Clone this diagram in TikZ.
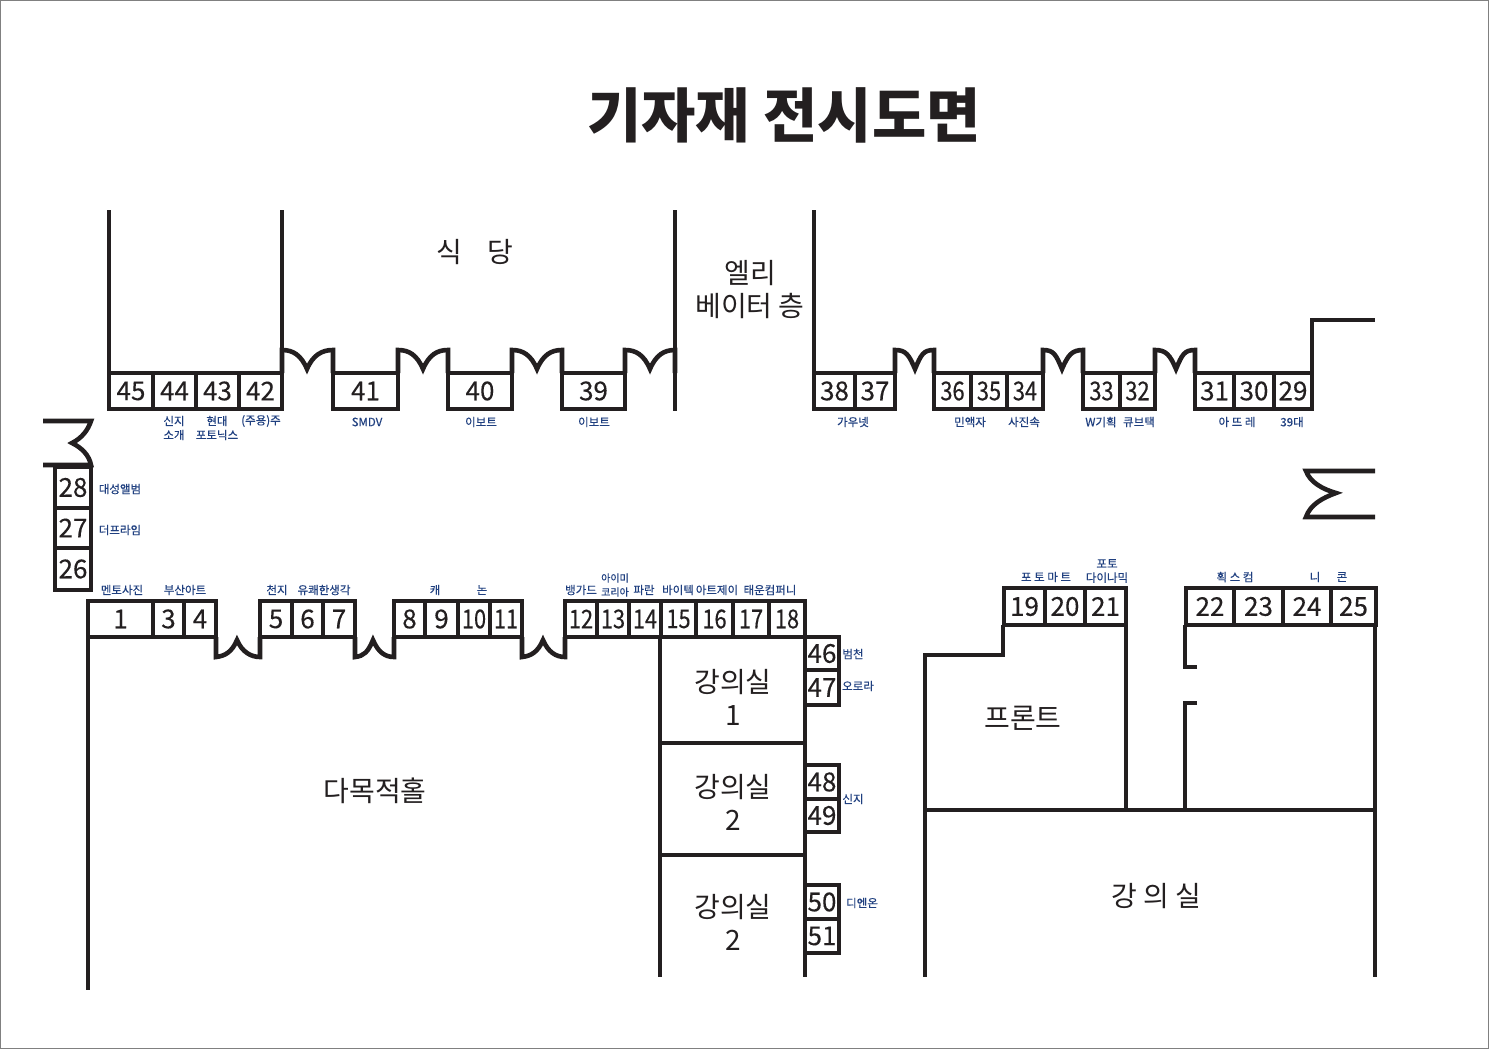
\documentclass[tikz,border=0pt]{standalone}
\usepackage{fontspec}
\setmainfont{Noto Sans CJK KR}
\newfontfamily\tagfont[RawFeature={embolden=0.35}]{Noto Sans CJK KR}
\newfontfamily\numfont[RawFeature={embolden=0.25}]{Noto Sans CJK KR}
\newfontfamily\narrowfont[FakeStretch=0.84,RawFeature={embolden=0.25}]{Noto Sans CJK KR}
\usepackage{tikz}
\usetikzlibrary{positioning}
\definecolor{labelblue}{HTML}{1F3F7F}
\definecolor{wallblack}{HTML}{231F20}
\tikzset{
  wall/.style={draw=wallblack,line width=3.3pt,line cap=butt,line join=miter},
  doorline/.style={draw=wallblack,line width=4.6pt,line join=miter},
  booth/.style={draw=wallblack,line width=3.4pt,fill=white,inner sep=0pt,outer sep=0pt,font=\numfont\fontsize{26}{26}\selectfont,text=wallblack},
  tag/.style={text=labelblue,inner sep=0pt,align=center,font=\tagfont\fontsize{11.5}{14}\selectfont},
  room/.style={text=wallblack,inner sep=0pt,align=center,font=\fontsize{28}{33}\selectfont}
}
\begin{document}
\begin{tikzpicture}[x=1pt,y=-1pt]
\useasboundingbox (0,0) rectangle (1489,1049);
\draw[gray,line width=1.5pt] (0.7,0.7) rectangle (1488.3,1048.3);
\node[text=wallblack,inner sep=0pt,font=\fontsize{59}{59}\selectfont\bfseries] (title) at (784,115) {기자재 전시도면};
% walls
\draw[wall] (109,210) -- (109,373);
\draw[wall] (282,210) -- (282,409);
\draw[wall] (675,210) -- (675,411);
\draw[wall] (814,210) -- (814,373);
\draw[wall] (1312,373) -- (1312,320) -- (1375,320);
\draw[wall] (88,637) -- (88,990);
\draw[wall] (660,637) -- (660,977);
\draw[wall] (805,637) -- (805,977);
\draw[wall] (660,743) -- (805,743);
\draw[wall] (660,855) -- (805,855);
\draw[wall] (1003,625) -- (1003,655) -- (925,655) -- (925,977);
\draw[wall] (925,810) -- (1375,810);
\draw[wall] (1126,625) -- (1126,810);
\draw[wall] (1375,625) -- (1375,977);
\draw[wall] (1197,667) -- (1185,667) -- (1185,625);
\draw[wall] (1197,703) -- (1185,703) -- (1185,810);
% doors top row
\foreach \xa/\xm/\xb in {282/307/333,398/423/448,512/537/562,625/650/675,895/915/934,1043/1062/1083,1155/1176/1195}{
  \draw[doorline] (\xa,373) -- (\xa,350) .. controls (\xa+11,350) and (\xm-6,355) .. (\xm,369)
    .. controls (\xm+6,355) and (\xb-11,350) .. (\xb,350) -- (\xb,373);
}
% doors lower row
\foreach \xa/\xm/\xb in {216/237/260,355/373/394,522/543/565}{
  \draw[doorline] (\xa,637) -- (\xa,657) .. controls (\xa+9,656) and (\xm-5,652) .. (\xm,640)
    .. controls (\xm+5,652) and (\xb-9,657) .. (\xb,657) -- (\xb,637);
}
% side doors
\draw[doorline] (43,421) -- (91,421) .. controls (88,430) and (82,438) .. (72,443) .. controls (82,448) and (89,455) .. (91,465) -- (43,465);
\draw[doorline] (1375,471) -- (1306,471) .. controls (1310,482) and (1322,489) .. (1336,493) .. controls (1322,498) and (1310,505) .. (1306,517) -- (1375,517);
% booths
\foreach \xa/\xb/\ya/\yb/\num in {
  109/153/373/409/45,153/196/373/409/44,196/239/373/409/43,239/282/373/409/42,
  333/398/373/409/41,448/512/373/409/40,562/625/373/409/39,
  814/855/373/409/38,855/895/373/409/37,1195/1234/373/409/31,1234/1274/373/409/30,1274/1312/373/409/29,
  88/153/601/637/1,153/184/601/637/3,184/216/601/637/4,260/292/601/637/5,292/323/601/637/6,323/355/601/637/7,
  394/425/601/637/8,425/458/601/637/9,
  805/839/765/799/48,805/839/799/832/49,805/839/885/919/50,805/839/919/953/51,
  1004/1045/588/625/19,1045/1085/588/625/20,1085/1126/588/625/21,
  1186/1234/588/625/22,1234/1283/588/625/23,1283/1331/588/625/24,1331/1376/588/625/25}{
  \node[booth,minimum width={(\xb-\xa)*1pt},minimum height={(\yb-\ya)*1pt}] (b\num) at ({(\xa+\xb)/2},{(\ya+\yb)/2}) {\num};
}
% tight booths
\foreach \xa/\xb/\ya/\yb/\num in {
  934/971/373/409/36,971/1007/373/409/35,1007/1043/373/409/34,1083/1120/373/409/33,1120/1155/373/409/32,
  458/490/601/637/10,490/522/601/637/11,
  565/597/601/637/12,597/629/601/637/13,629/661/601/637/14,661/696/601/637/15,696/733/601/637/16,733/769/601/637/17,769/805/601/637/18}{
  \node[booth,minimum width={(\xb-\xa)*1pt},minimum height={(\yb-\ya)*1pt},font=\narrowfont\fontsize{26}{26}\selectfont] (b\num) at ({(\xa+\xb)/2},{(\ya+\yb)/2}) {\num};
}
% side booths
\foreach \xa/\xb/\ya/\yb/\num in {
  55/91/467/508/28,55/91/508/548/27,55/91/548/590/26,
  805/839/637/670/46,805/839/670/705/47}{
  \node[booth,minimum width={(\xb-\xa)*1pt},minimum height={(\yb-\ya)*1pt}] (b\num) at ({(\xa+\xb)/2},{(\ya+\yb)/2}) {\raisebox{-2.5pt}{\num}};
}
% rooms
\node[room] (dining) at (475,252) {식\hspace{0.9em}당};
\node[room] (lift) at (750,290) {엘리\\베이터 층};
\node[room] (hall) at (375,791) {다목적홀};
\node[room] (class1) at (733,697) {강의실\\1};
\node[room] (class2) at (733,802) {강의실\\2};
\node[room] (class3) at (733,922) {강의실\\2};
\node[room] (front) at (1023,718) {프론트};
\node[room] (class4) at (1156,896) {강 의 실};
% exhibitor names
\foreach \px/\py/\name/\txt in {
  174/428/n44/{신지\\소개},217/428/n43/{현대\\포토닉스},261/421/n42/{(주용)주},367/422/n41/{SMDV},481/422/n40/{이보트},594/422/n39/{이보트},
  853/422/n38/{가우넷},970/422/n36/{민액자},1024/422/n34/{사진속},1101/422/n33/{W기획},1139/422/n32/{큐브택},1237/422/n31/{아 뜨 레},1292/422/n29/{39대},
  120/489/n28/{대성앨범},120/530/n27/{더프라임},
  122/590/n1/{멘토사진},185/590/n3/{부산아트},277/590/n5/{천지},324/590/n6/{유쾌한생각},435/590/n9/{캐},482/590/n10/{논},
  581/590/n12/{뱅가드},615/585/n13/{\fontsize{10}{14.5}\selectfont 아이미\\\fontsize{10}{14.5}\selectfont 코리아},644/590/n14/{파란},678/590/n15/{바이텍},717/590/n16/{아트제이},770/590/n17/{태운컴퍼니},
  853/654/n46/{범천},858/686/n47/{오로라},853/799/n48/{신지},862/903/n50/{디엔온},
  1046/577/n19/{포 토 마 트},1107/571/n21/{포토\\다이나믹},1235/577/n22/{획 스 컴},1315/577/n24/{니},1342/577/n25/{콘}}{
  \node[tag] (\name) at (\px,\py) {\txt};
}
\end{tikzpicture}
\end{document}
